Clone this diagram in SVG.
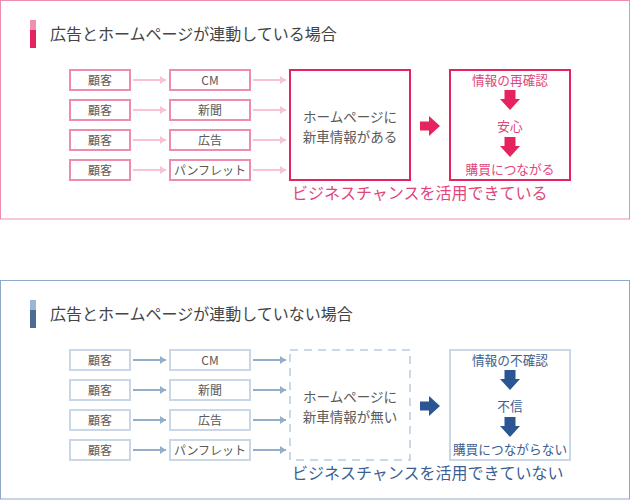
<svg xmlns="http://www.w3.org/2000/svg" width="630" height="500" viewBox="0 0 630 500">
<defs>
<style>
text{font-family:"Noto Sans CJK JP","Liberation Sans",sans-serif;}
.title{font-family:"Liberation Serif","Noto Sans CJK JP",serif;font-size:16px;fill:#444;}
.t{font-size:12px;fill:#5a5a5a;text-anchor:middle;}
.tb{font-size:13.5px;fill:#5a5a5a;text-anchor:middle;}
.pbox{fill:#fff;stroke:#ef8cae;stroke-width:2;}
.bbox{fill:#fff;stroke:#c9d7e7;stroke-width:2;}
.parr{stroke:#f8c3d5;stroke-width:2;fill:none;}
.barr{stroke:#93aecb;stroke-width:2;fill:none;}
.pt{font-size:12.7px;fill:#e0467c;text-anchor:middle;}
.bt{font-size:12.7px;fill:#3c5f92;text-anchor:middle;}
</style>
<marker id="mp" viewBox="0 0 6 8" refX="6" refY="4" markerWidth="6" markerHeight="8" markerUnits="userSpaceOnUse" orient="auto"><path d="M0,0L6,4L0,8Z" fill="#f8c3d5"/></marker>
<marker id="mb" viewBox="0 0 6 8" refX="6" refY="4" markerWidth="6" markerHeight="8" markerUnits="userSpaceOnUse" orient="auto"><path d="M0,0L6,4L0,8Z" fill="#93aecb"/></marker>
<path id="rarrow" d="M0,-4.5H9V-10L20,0L9,10V4.5H0Z"/>
<path id="darrow" d="M-5.5,0H5.5V9H10L0,20L-10,9H-5.5Z"/>
</defs>
<rect width="630" height="500" fill="#fff"/>

<!-- Top panel -->
<g id="panel-top">
<rect x="0.5" y="0.5" width="629" height="218.5" fill="#fff" stroke="#ef8db0" stroke-width="1"/>
<rect x="30" y="20" width="6" height="10" fill="#f08fb2"/>
<rect x="30" y="30" width="6" height="18" fill="#e5235f"/>
<text class="title" x="50" y="40">広告とホームページが連動している場合</text>
</g>

<g id="t-cust1"><rect class="pbox" x="70" y="70" width="60" height="20"/><text class="t" x="100" y="84.5">顧客</text></g>
<g id="t-cust2"><rect class="pbox" x="70" y="100" width="60" height="20"/><text class="t" x="100" y="114.5">顧客</text></g>
<g id="t-cust3"><rect class="pbox" x="70" y="130" width="60" height="20"/><text class="t" x="100" y="144.5">顧客</text></g>
<g id="t-cust4"><rect class="pbox" x="70" y="160" width="60" height="20"/><text class="t" x="100" y="174.5">顧客</text></g>
<g id="t-cm"><rect class="pbox" x="170" y="70" width="80" height="20"/><text class="t" x="210" y="84.5">CM</text></g>
<g id="t-news"><rect class="pbox" x="170" y="100" width="80" height="20"/><text class="t" x="210" y="114.5">新聞</text></g>
<g id="t-ad"><rect class="pbox" x="170" y="130" width="80" height="20"/><text class="t" x="210" y="144.5">広告</text></g>
<g id="t-pamph"><rect class="pbox" x="170" y="160" width="80" height="20"/><text class="t" x="210" y="174.5">パンフレット</text></g>
<g id="t-hp"><rect x="290" y="70" width="120" height="110" fill="#fff" stroke="#e5235f" stroke-width="2"/>
<text class="tb" x="350" y="122">ホームページに</text><text class="tb" x="350" y="142">新車情報がある</text></g>
<g id="t-result"><rect x="450" y="70" width="120" height="110" fill="#fff" stroke="#e5235f" stroke-width="2"/>
<text class="pt" x="510" y="84.5">情報の再確認</text>
<text class="pt" x="510" y="130.5">安心</text>
<text class="pt" x="510" y="173.5">購買につながる</text></g>
<text x="292" y="199" font-size="16" fill="#e0467c">ビジネスチャンスを活用できている</text>

<g id="top-connectors">
<line class="parr" x1="133" y1="80" x2="166" y2="80" marker-end="url(#mp)"/>
<line class="parr" x1="133" y1="110" x2="166" y2="110" marker-end="url(#mp)"/>
<line class="parr" x1="133" y1="140" x2="166" y2="140" marker-end="url(#mp)"/>
<line class="parr" x1="133" y1="170" x2="166" y2="170" marker-end="url(#mp)"/>
<line class="parr" x1="253" y1="80" x2="286" y2="80" marker-end="url(#mp)"/>
<line class="parr" x1="253" y1="110" x2="286" y2="110" marker-end="url(#mp)"/>
<line class="parr" x1="253" y1="140" x2="286" y2="140" marker-end="url(#mp)"/>
<line class="parr" x1="253" y1="170" x2="286" y2="170" marker-end="url(#mp)"/>
<use href="#rarrow" x="420" y="126" fill="#e5235f"/>
<use href="#darrow" x="510" y="90" fill="#e5235f"/>
<use href="#darrow" x="510" y="137" fill="#e5235f"/>
</g>

<!-- Bottom panel -->
<g id="panel-bottom">
<rect x="0.5" y="280.5" width="629" height="218.5" fill="#fff" stroke="#8fa9cb" stroke-width="1"/>
<rect x="30" y="300" width="6" height="10" fill="#9db5d2"/>
<rect x="30" y="310" width="6" height="18" fill="#4c6b92"/>
<text class="title" x="50" y="320">広告とホームページが連動していない場合</text>
</g>

<g id="b-cust1"><rect class="bbox" x="70" y="350" width="60" height="20"/><text class="t" x="100" y="364.5">顧客</text></g>
<g id="b-cust2"><rect class="bbox" x="70" y="380" width="60" height="20"/><text class="t" x="100" y="394.5">顧客</text></g>
<g id="b-cust3"><rect class="bbox" x="70" y="410" width="60" height="20"/><text class="t" x="100" y="424.5">顧客</text></g>
<g id="b-cust4"><rect class="bbox" x="70" y="440" width="60" height="20"/><text class="t" x="100" y="454.5">顧客</text></g>
<g id="b-cm"><rect class="bbox" x="170" y="350" width="80" height="20"/><text class="t" x="210" y="364.5">CM</text></g>
<g id="b-news"><rect class="bbox" x="170" y="380" width="80" height="20"/><text class="t" x="210" y="394.5">新聞</text></g>
<g id="b-ad"><rect class="bbox" x="170" y="410" width="80" height="20"/><text class="t" x="210" y="424.5">広告</text></g>
<g id="b-pamph"><rect class="bbox" x="170" y="440" width="80" height="20"/><text class="t" x="210" y="454.5">パンフレット</text></g>
<g id="b-hp"><rect x="290" y="350" width="120" height="110" fill="#fff" stroke="#c9d7e7" stroke-width="2" stroke-dasharray="8,6"/>
<text class="tb" x="350" y="402">ホームページに</text><text class="tb" x="350" y="422">新車情報が無い</text></g>
<g id="b-result"><rect x="450" y="350" width="120" height="110" fill="#fff" stroke="#c9d7e7" stroke-width="2"/>
<text class="bt" x="510" y="364.5">情報の不確認</text>
<text class="bt" x="510" y="410.5">不信</text>
<text class="bt" x="510" y="453.5">購買につながらない</text></g>
<text x="292" y="479" font-size="16" fill="#3c5f92">ビジネスチャンスを活用できていない</text>

<g id="bottom-connectors">
<line class="barr" x1="133" y1="360" x2="166" y2="360" marker-end="url(#mb)"/>
<line class="barr" x1="133" y1="390" x2="166" y2="390" marker-end="url(#mb)"/>
<line class="barr" x1="133" y1="420" x2="166" y2="420" marker-end="url(#mb)"/>
<line class="barr" x1="133" y1="450" x2="166" y2="450" marker-end="url(#mb)"/>
<line class="barr" x1="253" y1="360" x2="286" y2="360" marker-end="url(#mb)"/>
<line class="barr" x1="253" y1="390" x2="286" y2="390" marker-end="url(#mb)"/>
<line class="barr" x1="253" y1="420" x2="286" y2="420" marker-end="url(#mb)"/>
<line class="barr" x1="253" y1="450" x2="286" y2="450" marker-end="url(#mb)"/>
<use href="#rarrow" x="420" y="406" fill="#2b5593"/>
<use href="#darrow" x="510" y="370" fill="#2b5593"/>
<use href="#darrow" x="510" y="417" fill="#2b5593"/>
</g>
</svg>
